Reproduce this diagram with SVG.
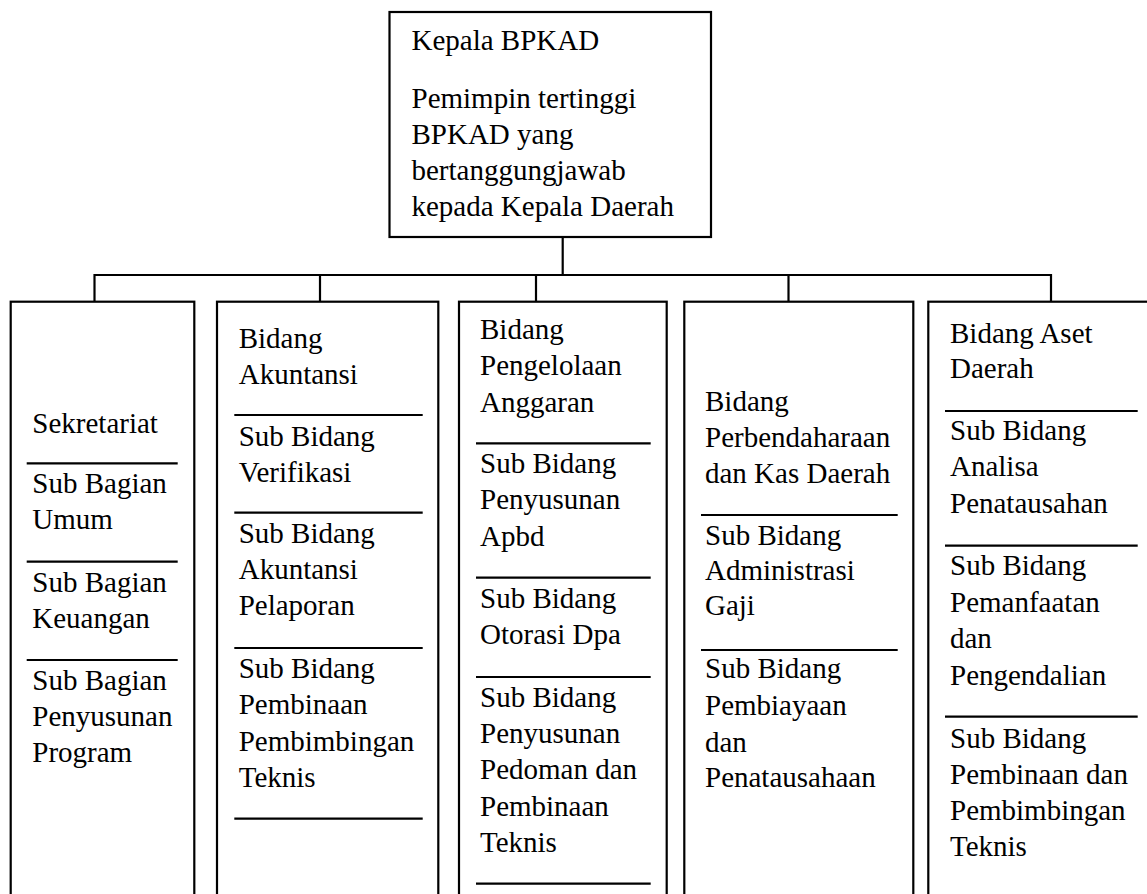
<svg xmlns="http://www.w3.org/2000/svg" width="1147" height="894" viewBox="0 0 1147 894">
<style>
.box{fill:#fff;stroke:#000;stroke-width:2.2}
.sep{stroke:#000;stroke-width:2.2}
.con{fill:none;stroke:#000;stroke-width:2.2}
.t{font-family:'Liberation Serif','DejaVu Serif',serif;font-size:29px;fill:#000}
</style>
<rect width="1147" height="894" fill="#fff"/>
<g id="connectors">
<line class="con" x1="562.7" y1="237" x2="562.7" y2="275"/>
<line class="con" x1="94.5" y1="275" x2="1051" y2="275"/>
<line class="con" x1="94.5" y1="274" x2="94.5" y2="302"/>
<line class="con" x1="320" y1="275" x2="320" y2="302"/>
<line class="con" x1="536" y1="275" x2="536" y2="302"/>
<line class="con" x1="788.5" y1="275" x2="788.5" y2="302"/>
<line class="con" x1="1051" y1="274" x2="1051" y2="302"/>
</g>
<g id="kepala" class="t" font-family="Liberation Serif">
<rect class="box" x="389.5" y="12" width="321.5" height="225"/>
<text x="411.5" y="50">Kepala BPKAD</text>
<text x="411.5" y="108.3">Pemimpin tertinggi</text>
<text x="411.5" y="144">BPKAD yang</text>
<text x="411.5" y="180">bertanggungjawab</text>
<text x="411.5" y="215.7">kepada Kepala Daerah</text>
</g>
<g id="sekretariat" class="t" font-family="Liberation Serif">
<rect class="box" x="10.7" y="301.7" width="183.6" height="620"/>
<text x="32.3" y="432.7">Sekretariat</text>
<line class="sep" x1="26.7" y1="463.3" x2="177.7" y2="463.3"/>
<text x="32.3" y="493.3">Sub Bagian</text>
<text x="32.3" y="529.3">Umum</text>
<line class="sep" x1="26.7" y1="561.7" x2="177.7" y2="561.7"/>
<text x="32.3" y="592.3">Sub Bagian</text>
<text x="32.3" y="628.3">Keuangan</text>
<line class="sep" x1="26.7" y1="660" x2="177.7" y2="660"/>
<text x="32.3" y="690">Sub Bagian</text>
<text x="32.3" y="726">Penyusunan</text>
<text x="32.3" y="762.3">Program</text>
</g>
<g id="akuntansi" class="t" font-family="Liberation Serif">
<rect class="box" x="217" y="301.7" width="221.3" height="620"/>
<text x="238.7" y="348">Bidang</text>
<text x="238.7" y="384">Akuntansi</text>
<line class="sep" x1="234.3" y1="415" x2="422.7" y2="415"/>
<text x="238.7" y="445.7">Sub Bidang</text>
<text x="238.7" y="481.5">Verifikasi</text>
<line class="sep" x1="234.3" y1="512.7" x2="422.7" y2="512.7"/>
<text x="238.7" y="543.3">Sub Bidang</text>
<text x="238.7" y="579">Akuntansi</text>
<text x="238.7" y="615">Pelaporan</text>
<line class="sep" x1="234.3" y1="648" x2="422.7" y2="648"/>
<text x="238.7" y="678.3">Sub Bidang</text>
<text x="238.7" y="714">Pembinaan</text>
<text x="238.7" y="750.5">Pembimbingan</text>
<text x="238.7" y="786.5">Teknis</text>
<line class="sep" x1="234.3" y1="818.7" x2="422.7" y2="818.7"/>
</g>
<g id="anggaran" class="t" font-family="Liberation Serif">
<rect class="box" x="459" y="301.7" width="207.7" height="620"/>
<text x="480" y="339.3">Bidang</text>
<text x="480" y="375.3">Pengelolaan</text>
<text x="480" y="411.5">Anggaran</text>
<line class="sep" x1="476" y1="443.3" x2="650.7" y2="443.3"/>
<text x="480" y="473.3">Sub Bidang</text>
<text x="480" y="509.3">Penyusunan</text>
<text x="480" y="545.5">Apbd</text>
<line class="sep" x1="476" y1="577.7" x2="650.7" y2="577.7"/>
<text x="480" y="608.3">Sub Bidang</text>
<text x="480" y="644.3">Otorasi Dpa</text>
<line class="sep" x1="476" y1="677" x2="650.7" y2="677"/>
<text x="480" y="706.7">Sub Bidang</text>
<text x="480" y="742.7">Penyusunan</text>
<text x="480" y="779">Pedoman dan</text>
<text x="480" y="815.5">Pembinaan</text>
<text x="480" y="851.7">Teknis</text>
<line class="sep" x1="476" y1="883.7" x2="650.7" y2="883.7"/>
</g>
<g id="perbendaharaan" class="t" font-family="Liberation Serif">
<rect class="box" x="684.3" y="301.7" width="229" height="620"/>
<text x="705" y="410.5">Bidang</text>
<text x="705" y="446.5">Perbendaharaan</text>
<text x="705" y="482.5">dan Kas Daerah</text>
<line class="sep" x1="701" y1="515" x2="897.7" y2="515"/>
<text x="705" y="545">Sub Bidang</text>
<text x="705" y="580">Administrasi</text>
<text x="705" y="615">Gaji</text>
<line class="sep" x1="701" y1="650" x2="897.7" y2="650"/>
<text x="705" y="678.3">Sub Bidang</text>
<text x="705" y="715">Pembiayaan</text>
<text x="705" y="751.5">dan</text>
<text x="705" y="787.3">Penatausahaan</text>
</g>
<g id="aset" class="t" font-family="Liberation Serif">
<rect class="box" x="928.3" y="301.7" width="240" height="620"/>
<text x="950" y="342.7">Bidang Aset</text>
<text x="950" y="378.3">Daerah</text>
<line class="sep" x1="945" y1="411" x2="1137.7" y2="411"/>
<text x="950" y="440">Sub Bidang</text>
<text x="950" y="476">Analisa</text>
<text x="950" y="513">Penatausahan</text>
<line class="sep" x1="945" y1="545.7" x2="1137.7" y2="545.7"/>
<text x="950" y="575">Sub Bidang</text>
<text x="950" y="611.7">Pemanfaatan</text>
<text x="950" y="648.3">dan</text>
<text x="950" y="685">Pengendalian</text>
<line class="sep" x1="945" y1="716.7" x2="1137.7" y2="716.7"/>
<text x="950" y="748.3">Sub Bidang</text>
<text x="950" y="784">Pembinaan dan</text>
<text x="950" y="820">Pembimbingan</text>
<text x="950" y="856">Teknis</text>
</g>
</svg>
